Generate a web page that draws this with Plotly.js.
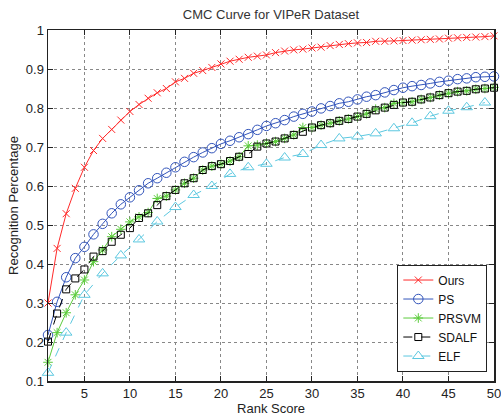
<!DOCTYPE html>
<html>
<head>
<meta charset="utf-8">
<script src="https://cdn.plot.ly/plotly-3.0.1.min.js"></script>
<style>html,body{margin:0;padding:0;background:#fff;}#chart{width:501px;height:418px;}</style>
</head>
<body>
<div id="chart"></div>
<script>
const ranks = Array.from({length: 50}, (_, i) => i + 1);
const elfRanks = [1,3,5,7,9,11,13,15,17,19,21,23,25,27,29,31,33,35,37,39,41,43,45,47,49];

const ours = [0.300,0.440,0.529,0.594,0.648,0.691,0.722,0.745,0.769,0.791,
              0.809,0.825,0.839,0.850,0.867,0.876,0.889,0.896,0.904,0.913,
              0.920,0.925,0.930,0.933,0.936,0.942,0.946,0.949,0.951,0.954,
              0.956,0.960,0.963,0.965,0.967,0.968,0.971,0.971,0.972,0.973,
              0.974,0.975,0.976,0.977,0.979,0.980,0.981,0.982,0.983,0.985];
const ps = [0.218,0.303,0.366,0.415,0.444,0.476,0.503,0.530,0.553,0.571,
            0.589,0.607,0.620,0.634,0.648,0.662,0.674,0.686,0.697,0.708,
            0.716,0.725,0.733,0.744,0.754,0.761,0.769,0.778,0.785,0.791,
            0.799,0.805,0.812,0.816,0.822,0.829,0.833,0.840,0.846,0.852,
            0.856,0.859,0.863,0.867,0.870,0.874,0.876,0.879,0.880,0.881];
const prsvm = [0.148,0.224,0.275,0.321,0.359,0.406,0.436,0.470,0.489,0.508,
               0.521,0.532,0.568,0.574,0.590,0.607,0.620,0.641,0.651,0.656,
               0.664,0.675,0.703,0.705,0.709,0.714,0.722,0.731,0.750,0.750,
               0.756,0.761,0.767,0.772,0.778,0.785,0.797,0.801,0.812,0.814,
               0.816,0.822,0.827,0.833,0.838,0.842,0.844,0.848,0.850,0.853];
const sdalf = [0.201,0.273,0.335,0.363,0.386,0.419,0.433,0.457,0.475,0.492,
               0.518,0.530,0.551,0.574,0.590,0.607,0.620,0.641,0.651,0.656,
               0.664,0.675,0.682,0.701,0.709,0.714,0.722,0.731,0.739,0.750,
               0.756,0.761,0.767,0.772,0.778,0.785,0.794,0.801,0.808,0.814,
               0.816,0.822,0.827,0.833,0.838,0.842,0.844,0.848,0.850,0.852];
const elf = [0.121,0.224,0.321,0.376,0.422,0.463,0.509,0.546,0.577,0.600,
             0.631,0.648,0.657,0.673,0.682,0.705,0.722,0.727,0.735,0.748,
             0.762,0.779,0.793,0.802,0.814];

const xTicks = [5,10,15,20,25,30,35,40,45,50];
const yTicks = [0.1,0.2,0.3,0.4,0.5,0.6,0.7,0.8,0.9,1];
const yTickText = ['0.1','0.2','0.3','0.4','0.5','0.6','0.7','0.8','0.9','1'];

const traces = [
  {x: ranks, y: ours, name: 'Ours', mode: 'lines+markers', cliponaxis: false,
   line: {color: '#ff2a2a', width: 1},
   marker: {symbol: 'x-thin-open', size: 7, line: {color: '#ff2a2a', width: 1}}},
  {x: ranks, y: ps, name: 'PS', mode: 'lines+markers', cliponaxis: false,
   line: {color: '#3355bb', width: 1},
   marker: {symbol: 'circle-open', size: 9.5, color: '#3355bb', line: {color: '#3355bb', width: 1}}},
  {x: ranks, y: prsvm, name: 'PRSVM', mode: 'lines+markers', cliponaxis: false,
   line: {color: '#5ccc3c', width: 1},
   marker: {symbol: 'asterisk-open', size: 8, color: '#5ccc3c', line: {color: '#5ccc3c', width: 1}}},
  {x: ranks, y: sdalf, name: 'SDALF', mode: 'lines+markers', cliponaxis: false,
   line: {color: '#000000', width: 1, dash: 'dash'},
   marker: {symbol: 'square-open', size: 7, color: '#000000', line: {color: '#000000', width: 1}}},
  {x: elfRanks, y: elf, name: 'ELF', mode: 'lines+markers', cliponaxis: false,
   line: {color: '#5cc8e0', width: 1, dash: 'dash'},
   marker: {symbol: 'triangle-up-open', size: 10, color: '#5cc8e0', line: {color: '#5cc8e0', width: 1}}}
];

const axisCommon = {
  showline: true, linecolor: '#222', linewidth: 1.5, mirror: 'ticks',
  ticks: 'inside', ticklen: 5, tickcolor: '#222',
  showgrid: true, gridcolor: '#888', griddash: 'dot', gridwidth: 1,
  zeroline: false, ticklabeloverflow: 'allow',
  tickfont: {family: 'Liberation Sans, Arial, sans-serif', size: 13, color: '#222'}
};

const layout = {
  width: 501, height: 418,
  margin: {l: 48, r: 7, t: 30, b: 37},
  paper_bgcolor: '#fff', plot_bgcolor: '#fff',
  font: {family: 'Liberation Sans, Arial, sans-serif', color: '#222'},
  title: {text: 'CMC Curve for VIPeR Dataset', x: 0.5, xref: 'paper', y: 0.966, yref: 'container', yanchor: 'middle',
          font: {size: 13, color: '#333'}},
  xaxis: Object.assign({}, axisCommon, {range: [1, 50], tickvals: xTicks,
          title: {text: 'Rank Score', font: {size: 13, color: '#222'}, standoff: 2}}),
  yaxis: Object.assign({}, axisCommon, {range: [0.1, 1], tickvals: yTicks, ticktext: yTickText,
          title: {text: 'Recognition Percentage', font: {size: 13, color: '#222'}, standoff: 4}}),
  showlegend: true,
  legend: {x: 0.985, xanchor: 'right', y: 0.027, yanchor: 'bottom',
           bgcolor: '#fff', bordercolor: '#222', borderwidth: 1,
           font: {size: 12, color: '#111'}, tracegroupgap: 0, itemwidth: 30}
};

Plotly.newPlot('chart', traces, layout, {displayModeBar: false, staticPlot: true});
</script>
</body>
</html>
